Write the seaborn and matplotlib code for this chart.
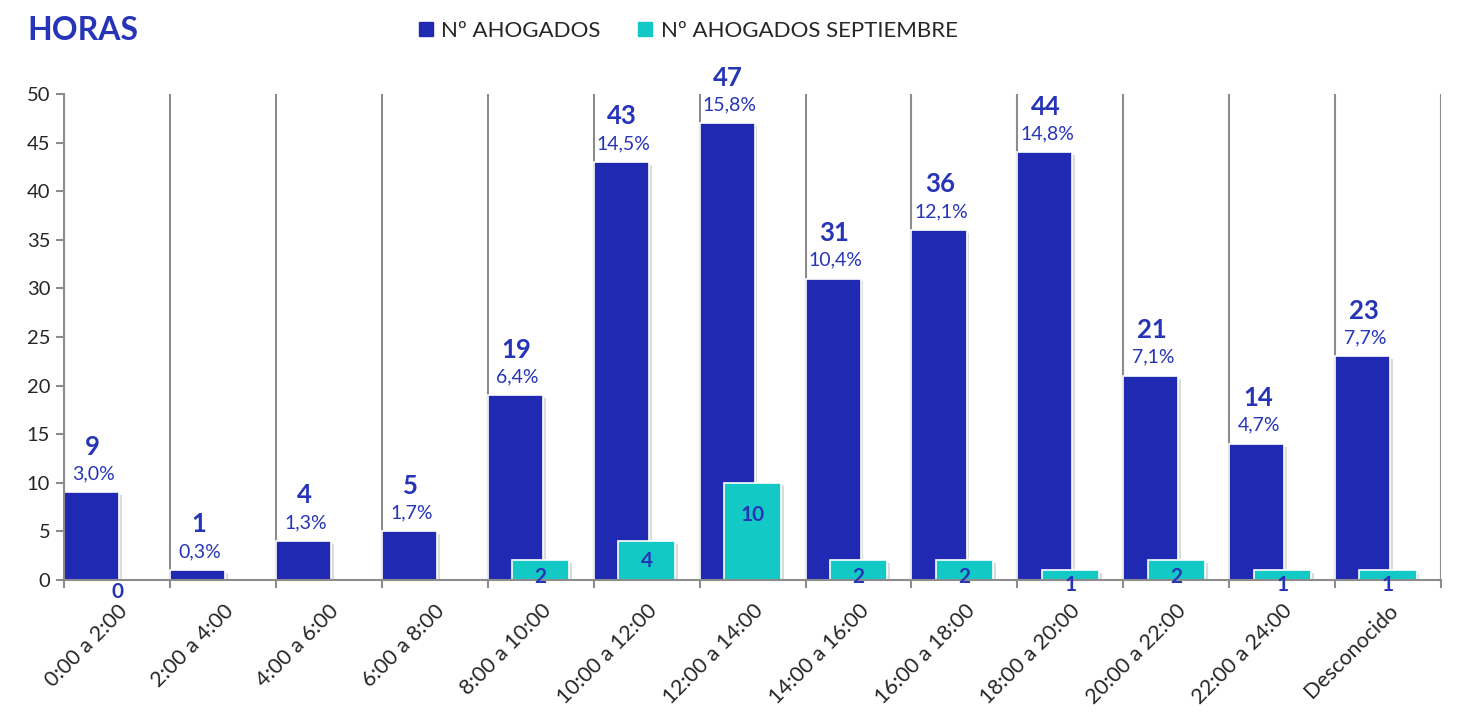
import numpy as np
import pandas as pd
import matplotlib
matplotlib.use('Agg')
import matplotlib.pyplot as plt
import seaborn as sns
from matplotlib.lines import Line2D
from matplotlib import patheffects as pe
from matplotlib.transforms import ScaledTranslation

# datos
horas = ['0:00 a 2:00', '2:00 a 4:00', '4:00 a 6:00', '6:00 a 8:00', '8:00 a 10:00',
         '10:00 a 12:00', '12:00 a 14:00', '14:00 a 16:00', '16:00 a 18:00',
         '18:00 a 20:00', '20:00 a 22:00', '22:00 a 24:00', 'Desconocido']
ahogados = [9, 1, 4, 5, 19, 43, 47, 31, 36, 44, 21, 14, 23]
septiembre = [0, np.nan, np.nan, np.nan, 2, 4, 10, 2, 2, 1, 2, 1, 1]
porcentajes = ['3,0%', '0,3%', '1,3%', '1,7%', '6,4%', '14,5%', '15,8%',
               '10,4%', '12,1%', '14,8%', '7,1%', '4,7%', '7,7%']

AZUL = '#2029B1'
TURQUESA = '#13C9C6'
TEXTO = '#2634B8'
GRIS = '#8C8C8C'

sns.set_theme(style='white')
plt.rcParams['font.family'] = ['Lato', 'DejaVu Sans']

df = pd.DataFrame({'hora': horas, 'ahogados': ahogados, 'septiembre': septiembre})
df['pos'] = np.arange(len(df))

fig = plt.figure(figsize=(14.59, 7.15), dpi=100)
ax = fig.add_axes([0.0439, 0.189, 0.9438, 0.6795])

# barras azules (total) y turquesa (septiembre) solapadas
sns.barplot(x=df['pos'] + 0.26, y=df['ahogados'], native_scale=True, orient='x',
            width=0.52, color=AZUL, saturation=1, edgecolor='white', linewidth=1.2, ax=ax)
sept = df.dropna(subset=['septiembre'])
sns.barplot(x=sept['pos'] + 0.5, y=sept['septiembre'], native_scale=True, orient='x',
            width=0.54, color=TURQUESA, saturation=1, edgecolor='white', linewidth=1.2, ax=ax)

sombra = [pe.SimplePatchShadow(offset=(2, -2), shadow_rgbFace='#999999', alpha=0.35), pe.Normal()]
for p in ax.patches:
    p.set_path_effects(sombra)

ax.set_xlim(0, 13)
ax.set_ylim(0, 50)
ax.set_xlabel('')
ax.set_ylabel('')

# ticks en los limites de categoria, etiquetas en el centro
ax.set_xticks(np.arange(len(df) + 1))
ax.set_xticklabels([])
ax.set_xticks(df['pos'] + 0.5, minor=True)
ax.set_xticklabels(horas, minor=True, rotation=45, ha='right', va='top',
                   rotation_mode='anchor', fontsize=15.5)
desplaza = ScaledTranslation(6 / 72, 0, fig.dpi_scale_trans)
for lab in ax.get_xticklabels(minor=True):
    lab.set_transform(lab.get_transform() + desplaza)
ax.tick_params(axis='x', which='major', bottom=True, length=6, width=1.5, color=GRIS, direction='out')
ax.tick_params(axis='x', which='minor', bottom=True, length=0, pad=15)
ax.set_yticks(range(0, 51, 5))
ax.tick_params(axis='y', left=True, length=6, width=1.5, color=GRIS, labelsize=14.5, pad=4)
ax.xaxis.grid(True, which='major', color=GRIS, linewidth=1.5)
ax.yaxis.grid(False)
ax.set_axisbelow(True)

for s in ['top', 'right']:
    ax.spines[s].set_visible(False)
for s in ['left', 'bottom']:
    ax.spines[s].set_color(GRIS)
    ax.spines[s].set_linewidth(1.5)

# etiquetas
for i, row in df.iterrows():
    v = row['ahogados']
    ax.text(i + 0.27, v + 4.7, str(v), ha='center', va='center', fontsize=18.5,
            fontweight='bold', color=TEXTO, clip_on=False)
    ax.text(i + 0.28, v + 1.9, porcentajes[i], ha='center', va='center', fontsize=14,
            color=TEXTO, clip_on=False)
for i, row in sept.iterrows():
    s = row['septiembre']
    ax.text(i + 0.5, 0.8 * s - 1.3, str(int(s)), ha='center', va='center', fontsize=15,
            fontweight='bold', color=TEXTO, clip_on=False, zorder=5)

fig.text(27 / 1459, 1 - 31 / 715, 'HORAS', fontsize=23, fontweight='bold', color=TEXTO,
         va='center', ha='left')

handles = [Line2D([], [], marker='s', linestyle='none', markersize=10,
                  markerfacecolor=c, markeredgecolor=c) for c in (AZUL, TURQUESA)]
fig.legend(handles, ['Nº AHOGADOS', 'Nº AHOGADOS SEPTIEMBRE'], loc='center',
           bbox_to_anchor=(0.471, 0.957), ncol=2, frameon=False, fontsize=16,
           handletextpad=0.3, columnspacing=1.6, handlelength=0.8)

fig.savefig('out.png', dpi=100)
